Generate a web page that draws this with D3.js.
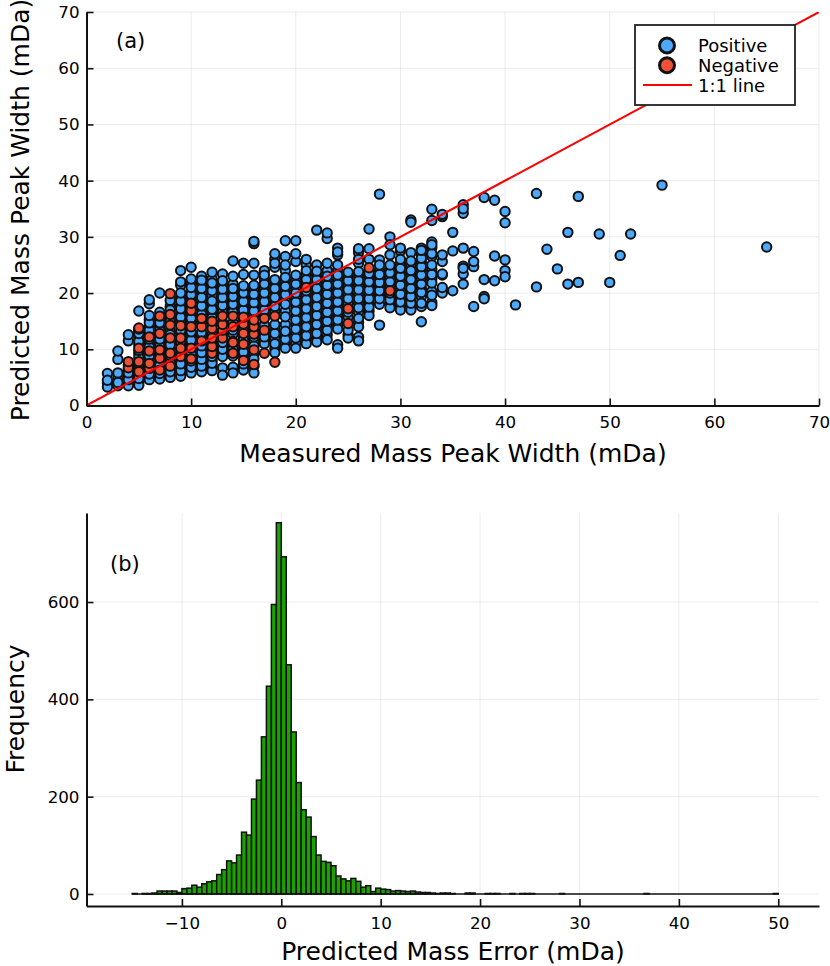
<!DOCTYPE html>
<html><head><meta charset="utf-8">
<script src="https://cdn.jsdelivr.net/npm/d3@7"></script>
<style>html,body{margin:0;background:#fff}svg{display:block}text{font-family:"DejaVu Sans",sans-serif;fill:#000}</style>
</head><body><div id="c"></div>
<script>
const measured = [2,3,4,5,6,7,8,9,10,11,12,13,14,15,16,17,18,19,20,21,22,23,24,25,26,27,28,29,30,31,32,33,34,35,36,37,38,39,40,41,43,44,45,46,47,49,50,51,52,55,65];
const positivePredicted = [
[3.3,4.0,4.5,5.7],
[3.5,3.9,4.1,5.0,5.8,8.2,9.7],
[3.5,4.0,4.6,5.2,5.8,6.4,7.2,11.5,12.6],
[3.6,4.2,4.8,5.4,6.2,7.0,8.5,9.2,9.8,10.8,11.4,12.2,12.8,13.2,13.6,16.8],
[4.6,5.1,5.6,6.2,7.2,8.1,8.8,9.5,10.4,11.0,11.8,12.6,13.4,14.1,14.7,15.3,16.0,18.1,18.8],
[4.7,5.2,5.7,6.3,7.1,7.6,8.9,9.4,10.5,11.2,11.8,12.4,13.4,14.1,14.7,15.3,16.6,20.0],
[5.0,5.5,6.0,6.6,7.6,8.4,8.9,10.0,10.8,11.2,12.6,13.3,14.9,15.6,17.0,17.6,18.7],
[5.2,5.7,6.2,6.8,7.4,7.9,9.4,11.0,11.4,12.7,13.4,15.0,15.7,16.4,17.2,17.9,18.6,19.3,20.0,21.4,22.0,24.0],
[5.8,6.3,6.8,7.4,7.9,8.8,9.4,11.0,11.6,12.4,13.1,14.8,15.5,16.0,17.6,19.0,19.7,20.4,21.0,21.8,22.5,24.6],
[6.0,6.4,7.0,7.6,8.2,8.8,9.4,10.0,10.6,12.3,13.0,14.8,16.2,17.0,17.7,18.5,19.2,20.0,20.8,21.6,22.3,23.0],
[6.2,6.9,7.5,8.1,8.7,9.4,10.0,11.0,12.6,14.4,15.6,16.4,17.1,17.8,18.6,19.4,20.4,21.0,21.8,22.5,23.7],
[5.4,6.7,8.7,9.3,10.0,10.6,11.2,12.7,13.0,14.8,16.6,17.2,17.8,18.5,19.2,20.0,20.7,21.4,22.2,23.4],
[5.8,6.8,8.8,9.4,10.0,10.7,11.4,12.7,13.4,14.7,16.6,17.3,18.0,18.8,19.4,20.0,20.8,21.6,23.0,25.7],
[6.3,6.9,7.4,8.8,9.5,10.0,11.6,12.2,13.5,14.2,15.0,16.4,17.0,17.8,18.5,19.3,20.0,20.6,21.3,23.3,25.3],
[5.8,7.0,8.3,9.3,10.6,11.4,12.2,13.4,14.6,16.0,16.8,17.5,18.3,19.0,19.8,20.6,21.4,23.2,25.3,28.8,29.2],
[11.0,11.6,12.2,12.8,14.3,16.2,17.0,17.8,18.5,19.2,20.0,20.8,21.6,22.4,23.2,24.0],
[9.4,10.2,11.0,12.0,12.8,13.6,14.4,16.8,17.6,18.4,19.2,20.0,20.8,21.6,22.4,24.6,25.3,26.0,27.0],
[10.2,11.0,11.8,12.6,13.2,14.4,15.8,16.8,18.0,18.8,19.7,20.4,21.2,22.0,22.8,24.0,25.0,26.5,29.3],
[10.2,11.2,12.0,12.8,13.6,14.4,15.2,16.0,16.8,17.6,18.4,19.2,20.0,20.8,21.6,22.4,23.2,25.6,27.0,29.3],
[11.0,11.7,12.4,13.2,14.0,14.8,15.6,16.4,17.2,18.0,18.8,19.6,20.4,21.6,22.4,23.2,24.0,25.0,26.0],
[11.3,12.0,12.8,13.6,14.4,15.2,16.0,16.8,17.6,18.4,19.2,20.0,20.8,21.6,22.4,23.2,23.9,25.0,31.2],
[11.7,12.6,13.4,14.2,15.0,15.8,16.6,17.4,18.2,19.0,19.8,20.6,21.4,22.2,23.0,24.0,25.3,29.7,30.7],
[10.2,10.8,13.6,14.4,15.2,16.0,16.8,17.6,18.4,19.2,20.0,20.8,21.6,22.4,23.2,24.0,25.0,26.8,27.3,28.0],
[12.0,12.6,13.4,15.8,16.6,18.2,19.0,19.7,20.6,21.4,22.2,23.0,23.7],
[11.5,12.2,14.0,14.8,15.5,16.6,17.4,18.2,19.0,19.8,20.6,21.4,22.2,23.0,23.8,25.3,26.0,27.2,27.9],
[16.0,16.8,17.5,18.2,19.0,19.8,20.5,21.3,22.0,22.8,23.5,26.0,27.9,31.4],
[14.3,18.0,19.0,19.6,20.4,21.1,21.9,22.6,23.3,24.0,25.0,25.9,37.6],
[17.4,18.1,18.8,19.5,20.0,21.2,22.0,22.8,23.6,24.3,25.0,26.8,28.6,30.0],
[17.0,17.7,18.4,19.1,19.8,20.6,21.4,22.2,23.0,23.7,24.4,25.2,26.0,27.5,28.0],
[17.0,17.6,18.2,18.8,19.4,20.1,20.8,21.6,22.4,23.2,24.0,24.8,25.7,27.2,32.6,33.0],
[14.9,17.6,18.2,19.4,20.1,20.8,21.6,22.4,23.2,24.0,24.7,25.5,26.2,27.0,27.6,28.0],
[17.8,18.3,19.6,20.3,21.8,22.6,23.3,24.2,25.0,26.5,27.0,28.1,28.6,29.1,32.9,34.9],
[20.0,20.4,21.0,23.2,23.4,25.6,26.8,33.6,34.0],
[20.4,27.5,30.8],
[21.6,23.4,24.4,24.8,28.0,34.2,35.0,35.7],
[17.6,24.7,25.6,27.4],
[19.0,19.4,22.4,37.0],
[22.2,26.6,36.5],
[22.9,24.0,25.9,32.5,34.5],
[17.9],
[21.1,37.7],[27.8],[24.3],[21.6,30.8],[21.9,37.2],[30.5],[21.9],[26.7],[30.5],[39.2],[28.2]
];
const negativeMeasured = [4,5,6,7,8,9,10,11,12,13,14,15,16,17,18,21,25,27,29];
const negativePredicted = [
[6.7,7.8],
[6.0,7.8,10.2,13.8],
[6.6,7.5,9.7,12.2],
[6.3,8.4,9.9,12.8,15.9],
[7.0,9.3,12.0,14.3,16.2,19.9],
[8.7,10.2,12.0,14.2],
[8.3,10.2,14.0,16.9,18.2],
[11.5,14.0,15.5],
[9.3,10.5,12.0,13.7,15.0],
[12.0,13.4,14.4,15.9],
[9.3,11.2,14.0,15.9],
[8.0,10.9,12.8,14.5,15.7],
[7.3,9.9,12.7,14.0,15.2],
[9.3,13.4,15.5],
[7.7,15.9],
[21.0],[14.6,17.2],[24.5],[20.4]
];
const xTicksA = [0,10,20,30,40,50,60,70];
const yTicksA = [0,10,20,30,40,50,60,70];
const xTicksB = [-10,0,10,20,30,40,50];
const yTicksB = [0,200,400,600];
const binStart = -15, binWidth = 0.5;
const frequency = [
1,0,1,1,2,6,6,6,6,3,
11,12,18,14,21,25,27,40,50,68,64,80,127,121,195,234,323,427,595,763,
693,471,333,229,173,158,118,80,67,65,58,37,31,27,32,26,14,17,5,12,10,9,6,7,
6,5,6,4,3,3,2,1,2,2,1,0,0,2,2,0,0,1,1,1,0,0,1,0,1,1,1,
0,0,0,0,0,1,0,0,0,0,0,0,0,0,0,0,0,0,0,0,0,0,1,0,0,0,0,0,0,0,0,0,0,0,0,0,0,0,0,0,0,0,0,0,0,0,0,0,1
];
const legendLabels = ["Positive","Negative","1:1 line"];
const blue="#4CA9FD", red="#EE5236", edge="#111", barFill="#1BA200";

const W=830,H=966;
const svg=d3.select("#c").append("svg").attr("width",W).attr("height",H);
const gridC="#000", gridO=0.08;

function frame(x,y,xT,yT,top,bottom,left,right){
  const g=svg.append("g");
  g.append("g").selectAll("line").data(xT).join("line").attr("x1",d=>x(d)).attr("x2",d=>x(d)).attr("y1",top).attr("y2",bottom).attr("stroke",gridC).attr("stroke-opacity",gridO);
  g.append("g").selectAll("line").data(yT).join("line").attr("y1",d=>y(d)).attr("y2",d=>y(d)).attr("x1",left).attr("x2",right).attr("stroke",gridC).attr("stroke-opacity",gridO);
}
function axes(x,y,xT,yT,bottom,left){
  const xa=d3.axisBottom(x).tickValues(xT).tickSizeInner(-7).tickSizeOuter(0).tickPadding(11);
  const ya=d3.axisLeft(y).tickValues(yT).tickSizeInner(-7).tickSizeOuter(0).tickPadding(7);
  const gx=svg.append("g").attr("transform",`translate(0,${bottom})`).call(xa);
  const gy=svg.append("g").attr("transform",`translate(${left},0)`).call(ya);
  for(const g of [gx,gy]){
    g.selectAll("text").attr("font-size",16.7).attr("fill","#000");
    g.selectAll("line").attr("stroke","#111").attr("stroke-width",1.6);
    g.select(".domain").attr("stroke","#111").attr("stroke-width",2);
  }
}
function label(t,x,y,size,rot,anchor){
  const e=svg.append("text").attr("font-size",size).attr("text-anchor",anchor||"middle").text(t);
  if(rot) e.attr("transform",`translate(${x},${y}) rotate(-90)`); else e.attr("x",x).attr("y",y);
}

// ---- panel (a)
const xA=d3.scaleLinear().domain([0,70]).range([86.5,819]);
const yA=d3.scaleLinear().domain([0,70]).range([405.5,12]);
frame(xA,yA,xTicksA,yTicksA,12,405.5,86.5,819);
svg.append("clipPath").attr("id","ca").append("rect").attr("x",86.5).attr("y",12).attr("width",732.5).attr("height",393.5);
const tagged=measured.flatMap((m,i)=>positivePredicted[i].map((v,j)=>({m,v,j})));
const pos=[...tagged.filter(d=>d.j%2===1),...tagged.filter(d=>d.j%2===0)];
const neg=negativeMeasured.flatMap((m,i)=>negativePredicted[i].map(v=>({m,v})));
function pts(data,fill){
  svg.append("g").selectAll("circle").data(data).join("circle")
    .attr("cx",d=>xA(d.m)).attr("cy",d=>yA(d.v)).attr("r",4.7)
    .attr("fill",fill).attr("stroke",edge).attr("stroke-width",2);
}
pts(pos,blue); pts(neg,red);
svg.append("line").attr("clip-path","url(#ca)").attr("x1",xA(0)).attr("y1",yA(0)).attr("x2",xA(70)).attr("y2",yA(70)).attr("stroke","#f00").attr("stroke-width",2);
axes(xA,yA,xTicksA,yTicksA,405.5,86.5);
label("Measured Mass Peak Width (mDa)",453,462,25);
label("Predicted Mass Peak Width (mDa)",29,210,25,true);
label("(a)",116,48,21,false,"start");

// legend
const lg=svg.append("g");
lg.append("rect").attr("x",635).attr("y",25).attr("width",160).attr("height",80).attr("fill","#fff").attr("stroke","#222").attr("stroke-width",1.8);
const rowY=d3.scaleLinear().domain([0,2]).range([45.5,85]);
legendLabels.forEach((t,i)=>{
  lg.append("text").attr("x",698).attr("y",rowY(i)+6.5).attr("font-size",18).text(t);
  if(i<2) lg.append("circle").attr("cx",667).attr("cy",rowY(i)).attr("r",7.5).attr("fill",i?red:blue).attr("stroke",edge).attr("stroke-width",3);
  else lg.append("line").attr("x1",643).attr("x2",692).attr("y1",rowY(i)).attr("y2",rowY(i)).attr("stroke","#f00").attr("stroke-width",1.8);
});

// ---- panel (b)
const xB=d3.scaleLinear().domain([-19.6,54.1]).range([86.5,819]);
const yB=d3.scaleLinear().domain([-24.7,783]).range([906,513]);
frame(xB,yB,xTicksB,yTicksB,513,906,86.5,819);
svg.append("g").selectAll("rect").data(frequency).join("rect")
  .attr("x",(d,i)=>xB(binStart+i*binWidth)).attr("width",(d,i)=>xB(binStart+(i+1)*binWidth)-xB(binStart+i*binWidth))
  .attr("y",d=>yB(d)).attr("height",d=>yB(0)-yB(d))
  .attr("fill",barFill).attr("stroke","#111").attr("stroke-width",1.5);
svg.append("line").attr("x1",xB(binStart)).attr("x2",xB(binStart+frequency.length*binWidth)).attr("y1",yB(0)).attr("y2",yB(0)).attr("stroke","#111").attr("stroke-width",1.5);
axes(xB,yB,xTicksB,yTicksB,906,86.5);
label("Predicted Mass Error (mDa)",453,960,25);
label("Frequency",24,709,25,true);
label("(b)",110,571,21,false,"start");
</script></body></html>
